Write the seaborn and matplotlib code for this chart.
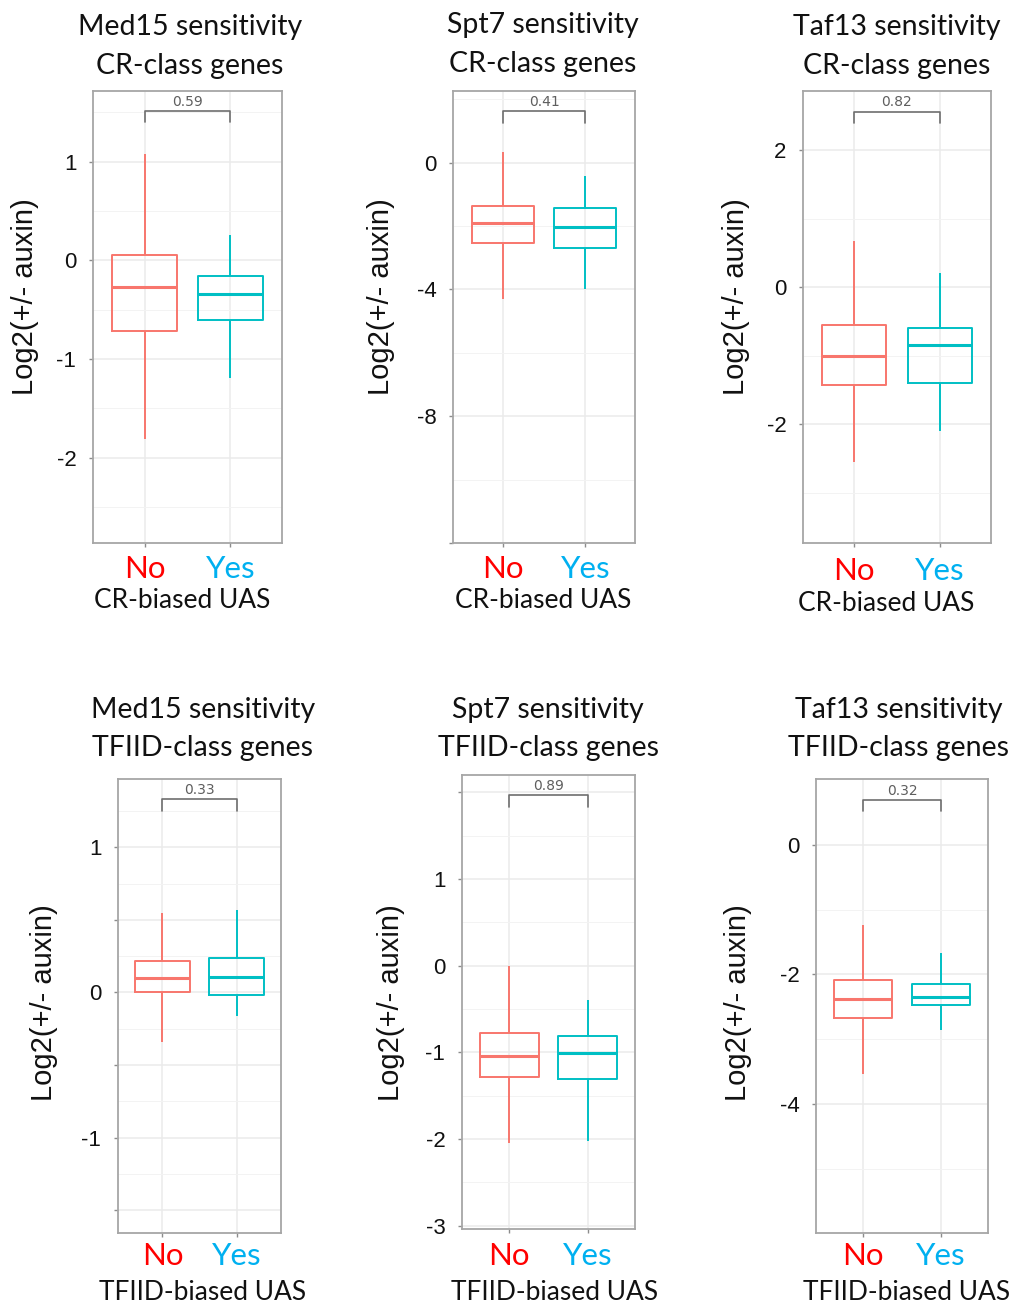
import matplotlib
matplotlib.use("Agg")
import matplotlib.pyplot as plt
import pandas as pd
import seaborn as sns

# --- Data: five-number summaries [low whisker, Q1, median, Q3, high whisker] ---
groups = ["No", "Yes"]
factors = ["Med15", "Spt7", "Taf13", "Med15", "Spt7", "Taf13"]
gene_class = ["CR", "CR", "CR", "TFIID", "TFIID", "TFIID"]
p_values = ["0.59", "0.41", "0.82", "0.33", "0.89", "0.32"]

med15_cr_no = [-1.81, -0.72, -0.27, 0.05, 1.08]
med15_cr_yes = [-1.19, -0.60, -0.34, -0.16, 0.26]
spt7_cr_no = [-4.29, -2.55, -1.89, -1.38, 0.32]
spt7_cr_yes = [-3.98, -2.68, -2.03, -1.43, -0.42]
taf13_cr_no = [-2.55, -1.42, -1.01, -0.55, 0.67]
taf13_cr_yes = [-2.09, -1.39, -0.85, -0.60, 0.20]
med15_tfiid_no = [-0.34, 0.00, 0.10, 0.22, 0.55]
med15_tfiid_yes = [-0.16, -0.02, 0.11, 0.24, 0.57]
spt7_tfiid_no = [-2.05, -1.29, -1.04, -0.78, -0.01]
spt7_tfiid_yes = [-2.02, -1.31, -1.01, -0.81, -0.40]
taf13_tfiid_no = [-3.53, -2.67, -2.37, -2.09, -1.24]
taf13_tfiid_yes = [-2.86, -2.47, -2.35, -2.14, -1.67]

no_values = [med15_cr_no, spt7_cr_no, taf13_cr_no, med15_tfiid_no, spt7_tfiid_no, taf13_tfiid_no]
yes_values = [med15_cr_yes, spt7_cr_yes, taf13_cr_yes, med15_tfiid_yes, spt7_tfiid_yes, taf13_tfiid_yes]

# significance bracket levels (top, leg tip)
bracket_top = [1.51, 1.62, 2.56, 1.33, 1.97, 0.69]
bracket_tip = [1.40, 1.25, 2.39, 1.25, 1.83, 0.51]

# --- Axis scales per panel ---
ylims = [(-2.864, 1.716), (-12.0, 2.26), (-3.73, 2.86), (-1.656, 1.47), (-3.04, 2.2), (-5.98, 1.01)]
major_ticks = [[-2, -1, 0, 1], [-12, -8, -4, 0], [-2, 0, 2],
               [-1.5, -1, -0.5, 0, 0.5, 1], [-3, -2, -1, 0, 1, 2], [-4, -2, 0]]
labelled_ticks = [[-2, -1, 0, 1], [-8, -4, 0], [-2, 0, 2], [-1, 0, 1], [-3, -2, -1, 0, 1], [-4, -2, 0]]
minor_ticks = [[-2.5, -1.5, -0.5, 0.5, 1.5], [-10, -6, -2, 2], [-3, -1, 1],
               [-1.25, -0.75, -0.25, 0.25, 0.75, 1.25], [-2.5, -1.5, -0.5, 0.5, 1.5], [-5, -3, -1]]

# --- Layout in pixels: axes rect (left, top, right, bottom), text centres ---
W, H = 1016, 1308
rects = [(93, 91, 282, 543), (453, 91, 635, 543), (803, 91, 991, 543),
         (118, 779, 281, 1233), (462, 775, 635, 1229), (816, 779, 988, 1233)]
title_x = [190, 543, 897, 203, 548, 899]
title_y = [(27, 66), (25, 64), (27, 66), (710, 748), (710, 748), (710, 748)]
ylabel_xy = [(25, 297), (381, 297), (736, 297), (44, 1003), (391, 1003), (738, 1003)]
xlabel_xy = [(182, 600), (543, 600), (886, 603), (203, 1293), (555, 1293), (907, 1293)]
xtick_y = [568, 568, 570, 1255, 1255, 1255]

box_colors = {"No": "#F8766D", "Yes": "#00BFC4"}
label_colors = {"No": "#FF0000", "Yes": "#00B0F0"}
text_color = "#111111"

sns.set_theme(style="white")
plt.rcParams["font.family"] = ["Liberation Sans", "DejaVu Sans"]
title_font = ["Lato", "DejaVu Sans"]

fig = plt.figure(figsize=(W / 100, H / 100), dpi=100)

for i in range(6):
    l, t, r, b = rects[i]
    ax = fig.add_axes([l / W, 1 - b / H, (r - l) / W, (b - t) / H])

    df = pd.DataFrame({
        "group": ["No"] * len(no_values[i]) + ["Yes"] * len(yes_values[i]),
        "value": no_values[i] + yes_values[i],
    })
    sns.boxplot(data=df, x="group", y="value", hue="group", order=groups, hue_order=groups,
                palette=box_colors, fill=False, width=0.75, whis=(0, 100), showcaps=False,
                linewidth=1.4, medianprops={"linewidth": 2.2}, legend=False, ax=ax)

    ax.set_xlim(-0.6, 1.6)
    ax.set_ylim(*ylims[i])
    ax.set_yticks(major_ticks[i])
    ax.set_yticklabels([f"{v:g}" if v in labelled_ticks[i] else "" for v in major_ticks[i]])
    ax.set_yticks(minor_ticks[i], minor=True)
    ax.grid(which="major", color="#EBEBEB", linewidth=1.1)
    ax.grid(which="minor", axis="y", color="#F3F3F3", linewidth=0.7)
    ax.set_axisbelow(True)
    for s in ax.spines.values():
        s.set_visible(True)
        s.set_color("#A6A6A6")
        s.set_linewidth(1.3)
    ax.tick_params(axis="y", which="major", length=3, width=1, color="#8C8C8C",
                   pad=9, labelsize=16, labelcolor=text_color, left=True)
    ax.tick_params(axis="y", which="minor", length=0)
    ax.tick_params(axis="x", length=3, width=1, color="#8C8C8C", bottom=True)

    # coloured No / Yes tick labels
    ax.set_xticks([0, 1])
    ax.set_xticklabels(groups, fontsize=22.5, family=title_font)
    for lbl in ax.get_xticklabels():
        lbl.set_color(label_colors[lbl.get_text()])
        lbl.set_va("center")
    ax.tick_params(axis="x", pad=(xtick_y[i] - b - 3) * 0.72)

    # significance bracket
    ax.plot([0, 0, 1, 1], [bracket_tip[i], bracket_top[i], bracket_top[i], bracket_tip[i]],
            color="#6E6E6E", linewidth=1.2)
    ax.annotate(p_values[i], xy=(0.5, bracket_top[i]), xytext=(0, 1.5), textcoords="offset points",
                ha="center", va="bottom", fontsize=10, family="DejaVu Sans", color="#5E5E5E")

    ax.set_ylabel("Log2(+/- auxin)", fontsize=21, color=text_color, va="center")
    ax.yaxis.set_label_coords(ylabel_xy[i][0] / W, 1 - ylabel_xy[i][1] / H, transform=fig.transFigure)
    ax.set_xlabel(f"{gene_class[i]}-biased UAS", fontsize=19, family=title_font,
                  color=text_color, va="center")
    ax.xaxis.set_label_coords(xlabel_xy[i][0] / W, 1 - xlabel_xy[i][1] / H, transform=fig.transFigure)

    fig.text(title_x[i] / W, 1 - title_y[i][0] / H, f"{factors[i]} sensitivity",
             ha="center", va="center", fontsize=20.5, family=title_font, color=text_color)
    fig.text(title_x[i] / W, 1 - title_y[i][1] / H, f"{gene_class[i]}-class genes",
             ha="center", va="center", fontsize=20.5, family=title_font, color=text_color)

fig.savefig("out.png", dpi=100, facecolor="white")
